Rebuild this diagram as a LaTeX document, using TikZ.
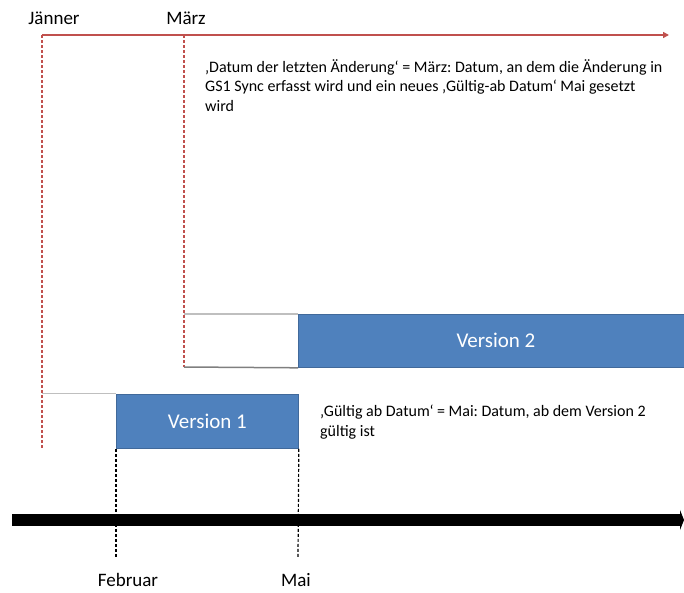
\documentclass[tikz,border=0pt]{standalone}
\usepackage{fontspec}
\setmainfont{Carlito}
\frenchspacing
\usetikzlibrary{arrows.meta}
\definecolor{offred}{HTML}{C0504D}
\definecolor{offblue}{HTML}{4F81BD}
\definecolor{offblueb}{HTML}{41699A}
\definecolor{lgray}{HTML}{BFBFBF}
\definecolor{dgray}{HTML}{7F7F7F}
\tikzset{
  lbl/.style={font=\fontsize{19}{22}\selectfont, inner sep=0pt},
  note/.style={font=\fontsize{16}{19.5}\selectfont, inner sep=0pt, anchor=north west, align=left},
  vbox/.style={fill=offblue, draw=offblueb, line width=0.8pt, inner sep=0pt, text=white, font=\fontsize{21}{24}\selectfont},
  reddash/.style={draw=offred, line width=1.3pt, dash pattern=on 3pt off 2pt},
  blkdash/.style={draw=black, line width=1.2pt, dash pattern=on 3pt off 2pt},
}
\begin{document}
\begin{tikzpicture}[x=1pt,y=-1pt]
\useasboundingbox (0,0) rectangle (684,592);
\clip (0,0) rectangle (684,592);
% labels top
\node[lbl] (jan) at (54,18) {Jänner};
\node[lbl] (mar) at (186,18) {März};
% red timeline
\coordinate (rs) at (42,35);
\coordinate (re) at (669,35);
\coordinate (m0) at (184,35);
\draw[offred, line width=2.5pt, -{Triangle[length=6pt,width=6pt]}] (rs) -- (re);
% red dashed verticals
\coordinate (jb) at (42,449);
\coordinate (mb) at (184,367);
\draw[reddash] (rs) -- (jb);
\draw[reddash] (m0) -- (mb);
% note 1
\node[note] (n1) at (205,59) {‚Datum der letzten Änderung‘ = März: Datum, an dem die Änderung in\\GS1 Sync erfasst wird und ein neues ‚Gültig-ab Datum‘ Mai gesetzt\\wird};
% version 2 lane
\coordinate (v2l) at (184,314);
\coordinate (v2lb) at (184,367);
\node[vbox, minimum width=392, minimum height=53, anchor=north west] (v2) at (298,314) {};
\node[text=white, font=\fontsize{21}{24}\selectfont] (v2t) at (496,340.5) {Version 2};
\draw[lgray, line width=1.5pt] (v2l) -- (v2.north west);
\draw[dgray, line width=1.5pt] (v2lb) -- (v2.south west);
% version 1 lane
\coordinate (v1l) at (42,393.5);
\node[vbox, minimum width=182, minimum height=54.5, anchor=north west] (v1) at (116,393.5) {Version 1};
\draw[lgray, line width=1.5pt] (v1l) -- (v1.north west);
% note 2
\node[note] (n2) at (320,405) {‚Gültig ab Datum‘ = Mai: Datum, ab dem Version 2\\gültig ist};
% black timeline
\coordinate (bs) at (12,520);
\coordinate (be) at (684,520);
\draw[black, line width=12pt, -{Triangle[length=4pt,width=20pt]}] (bs) -- (be);
% black dashed verticals
\coordinate (fb) at (116,557);
\coordinate (mab) at (298,557);
\draw[blkdash] (v1.south west) -- (fb);
\draw[blkdash] (v1.south east) -- (mab);
% bottom labels
\node[lbl] (feb) at (128,580) {Februar};
\node[lbl] (mai) at (296,580) {Mai};
\end{tikzpicture}
\end{document}
